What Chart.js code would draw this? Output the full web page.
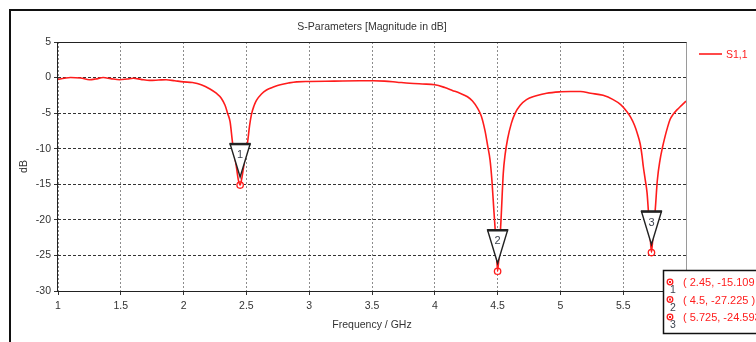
<!DOCTYPE html>
<html>
<head>
<meta charset="utf-8">
<script src="https://cdn.jsdelivr.net/npm/chart.js@4.4.1/dist/chart.umd.min.js"></script>
<style>
  html, body { margin: 0; padding: 0; background: #fff; }
  #wrap { width: 756px; height: 342px; }
</style>
</head>
<body>
<div id="wrap"><canvas id="sParamChart" width="756" height="342"></canvas></div>
<script>
// S1,1 sweep (GHz / dB)
const freq = [
  1.00, 1.05, 1.10, 1.18, 1.25, 1.30, 1.36, 1.42, 1.49, 1.55, 1.60, 1.66, 1.73, 1.80, 1.86, 1.93,
  2.00, 2.07, 2.14, 2.21, 2.26, 2.30, 2.33, 2.35, 2.37, 2.39, 2.40, 2.42, 2.435, 2.45, 2.465, 2.48,
  2.495, 2.51, 2.525, 2.54, 2.56, 2.58, 2.62, 2.66, 2.72, 2.77, 2.84, 2.90, 3.00, 3.20, 3.40, 3.51,
  3.60, 3.70, 3.80, 3.90, 4.00, 4.08, 4.14, 4.20, 4.26, 4.30, 4.34, 4.37, 4.40, 4.42, 4.44, 4.455,
  4.47, 4.485, 4.50, 4.515, 4.53, 4.545, 4.56, 4.58, 4.61, 4.64, 4.68, 4.73, 4.80, 4.89, 5.00, 5.08,
  5.16, 5.24, 5.34, 5.42, 5.48, 5.53, 5.56, 5.59, 5.615, 5.635, 5.65, 5.66, 5.675, 5.69, 5.70, 5.712,
  5.725, 5.74, 5.755, 5.772, 5.793, 5.813, 5.833, 5.853, 5.873, 5.90, 5.93, 5.965, 6.00
];
const s11 = [
  -0.25, -0.1, 0.0, -0.05, -0.3, -0.2, 0.0, -0.15, -0.3, -0.2, -0.1, -0.25, -0.4, -0.35, -0.3, -0.45,
  -0.6, -0.7, -1.0, -1.6, -2.2, -2.9, -3.9, -5.0, -6.2, -9.2, -10.3, -12.5, -14.3, -15.109, -14.0, -12.3,
  -10.5, -9.0, -6.8, -5.2, -4.0, -3.2, -2.3, -1.75, -1.3, -1.0, -0.75, -0.6, -0.55, -0.5, -0.45, -0.45,
  -0.5, -0.65, -0.8, -0.9, -1.0, -1.4, -1.8, -2.2, -2.7, -3.3, -4.3, -5.4, -7.5, -9.5, -11.6, -14.5,
  -18.6, -22.5, -27.225, -24.0, -19.0, -13.5, -10.8, -8.6, -6.4, -5.0, -3.9, -3.1, -2.6, -2.2, -2.0, -1.95,
  -1.95, -2.2, -2.5, -3.1, -3.8, -4.8, -5.6, -6.7, -8.0, -9.3, -11.0, -12.5, -14.3, -16.2, -18.6, -21.5,
  -24.593, -21.5, -18.6, -14.4, -11.6, -9.8, -8.3, -7.0, -5.9, -5.1, -4.5, -3.9, -3.3
];

const markerNames = ["1", "2", "3"];
const markerFreq = [2.45, 4.5, 5.725];
const markerVal = [-15.109, -27.225, -24.593];
const markerText = ["( 2.45, -15.109 )", "( 4.5, -27.225 )", "( 5.725, -24.593 )"];

const seriesName = "S1,1";
const chartTitle = "S-Parameters [Magnitude in dB]";
const xTitle = "Frequency / GHz";
const yTitle = "dB";

const RED = "rgb(255,28,28)";
const FONT = "'Liberation Sans', Arial, sans-serif";

function el(id) {
  return document.getElementById(id);
}

// frame, title, legend, markers and the marker readout box
const decorPlugin = {
  id: "decor",
  beforeDraw(chart) {
    const ctx = chart.ctx;
    ctx.save();
    ctx.fillStyle = "#fff";
    ctx.fillRect(0, 0, chart.width, chart.height);
    ctx.restore();
  },
  afterDatasetsDraw(chart) {
    const ctx = chart.ctx;
    const a = chart.chartArea;
    const xs = chart.scales.x;
    const ys = chart.scales.y;
    ctx.save();

    // plot border
    ctx.lineWidth = 1;
    ctx.strokeStyle = "#9a9a9a";
    ctx.beginPath();
    ctx.moveTo(a.right + 0.5, a.top);
    ctx.lineTo(a.right + 0.5, a.bottom);
    ctx.stroke();
    ctx.strokeStyle = "#222";
    ctx.beginPath();
    ctx.moveTo(a.left - 0.5, a.top + 0.5);
    ctx.lineTo(a.right + 0.5, a.top + 0.5);
    ctx.moveTo(a.left - 0.5, a.top);
    ctx.lineTo(a.left - 0.5, a.bottom + 0.5);
    ctx.lineTo(a.right + 0.5, a.bottom + 0.5);
    ctx.stroke();

    // outer window frame
    ctx.fillStyle = "#111";
    ctx.fillRect(9, 9, chart.width - 9, 2);
    ctx.fillRect(9, 9, 2, chart.height - 9);

    // titles
    ctx.fillStyle = "#333";
    ctx.font = "10.5px " + FONT;
    ctx.textAlign = "center";
    ctx.textBaseline = "middle";
    ctx.fillText(chartTitle, (a.left + a.right) / 2, 27);
    ctx.fillText(xTitle, (a.left + a.right) / 2, 325);
    ctx.save();
    ctx.translate(24, (a.top + a.bottom) / 2);
    ctx.rotate(-Math.PI / 2);
    ctx.fillText(yTitle, 0, 0);
    ctx.restore();

    // legend
    ctx.strokeStyle = RED;
    ctx.lineWidth = 1.6;
    ctx.beginPath();
    ctx.moveTo(699, 54);
    ctx.lineTo(722, 54);
    ctx.stroke();
    ctx.fillStyle = RED;
    ctx.textAlign = "left";
    ctx.fillText(seriesName, 726, 55);

    // marker triangles
    markerFreq.forEach((f, i) => {
      const px = xs.getPixelForValue(f);
      const py = ys.getPixelForValue(markerVal[i]);
      const top = py - 41;
      const apex = py - 8;
      ctx.fillStyle = "#fff";
      ctx.strokeStyle = "#222";
      ctx.lineWidth = 1.4;
      ctx.beginPath();
      ctx.moveTo(px - 10, top);
      ctx.lineTo(px + 10, top);
      ctx.lineTo(px, apex);
      ctx.closePath();
      ctx.fill();
      ctx.stroke();
      ctx.lineWidth = 2.5;
      ctx.beginPath();
      ctx.moveTo(px - 10.5, top);
      ctx.lineTo(px + 10.5, top);
      ctx.stroke();
      ctx.fillStyle = "#3d4450";
      ctx.font = "11px " + FONT;
      ctx.textAlign = "center";
      ctx.fillText(markerNames[i], px, top + 11);
    });

    // readout box
    const bx = 663, by = 270;
    ctx.fillStyle = "#fff";
    ctx.fillRect(bx, by, chart.width - bx + 5, 63);
    ctx.strokeStyle = "#111";
    ctx.lineWidth = 1.5;
    ctx.strokeRect(bx + 0.5, by + 0.5, chart.width - bx + 5, 63);
    markerText.forEach((t, i) => {
      const ry = 282 + i * 17.5;
      ctx.strokeStyle = RED;
      ctx.lineWidth = 1.3;
      ctx.beginPath();
      ctx.arc(670, ry, 2.8, 0, Math.PI * 2);
      ctx.stroke();
      ctx.fillStyle = RED;
      ctx.fillRect(669, ry - 1, 2, 2);
      ctx.fillStyle = "#3d4450";
      ctx.font = "10.5px " + FONT;
      ctx.textAlign = "center";
      ctx.fillText(markerNames[i], 673, ry + 8.5);
      ctx.fillStyle = RED;
      ctx.font = "11px " + FONT;
      ctx.textAlign = "left";
      ctx.fillText(t, 683, ry + 1);
    });

    ctx.restore();
  }
};

window.addEventListener("load", () => {
  new Chart(el("sParamChart"), {
    type: "line",
    data: {
      datasets: [
        {
          label: seriesName,
          data: freq.map((f, i) => ({ x: f, y: s11[i] })),
          borderColor: RED,
          borderWidth: 1.6,
          pointRadius: 0,
          tension: 0.3,
          cubicInterpolationMode: "monotone"
        },
        {
          label: "markers",
          type: "scatter",
          data: markerFreq.map((f, i) => ({ x: f, y: markerVal[i] })),
          borderColor: RED,
          backgroundColor: "#fff",
          borderWidth: 1.3,
          pointRadius: 3.2,
          pointStyle: "circle"
        }
      ]
    },
    options: {
      responsive: false,
      animation: false,
      layout: { padding: { top: 42, right: 70, left: 0, bottom: 0 } },
      plugins: {
        legend: { display: false },
        title: { display: false },
        tooltip: { enabled: false }
      },
      scales: {
        x: {
          type: "linear",
          min: 1,
          max: 6,
          afterFit: s => { s.height = 51; },
          ticks: {
            stepSize: 0.5,
            padding: 5,
            color: "#333",
            font: { family: FONT, size: 10.5 },
            maxRotation: 0,
            callback: v => String(v)
          },
          grid: {
            color: "#8c8c8c",
            lineWidth: 1,
            tickLength: 4,
            tickColor: "#333",
            tickBorderDash: []
          },
          border: { display: false, dash: [2, 2] }
        },
        y: {
          min: -30,
          max: 5,
          afterFit: s => { s.width = 58; },
          ticks: {
            stepSize: 5,
            padding: 3,
            color: "#333",
            font: { family: FONT, size: 10.5 },
            callback: v => String(v)
          },
          grid: {
            color: "#333",
            lineWidth: 1,
            tickLength: 4,
            tickColor: "#333",
            tickBorderDash: []
          },
          border: { display: false, dash: [3, 2] }
        }
      }
    },
    plugins: [decorPlugin]
  });
});
</script>
</body>
</html>
